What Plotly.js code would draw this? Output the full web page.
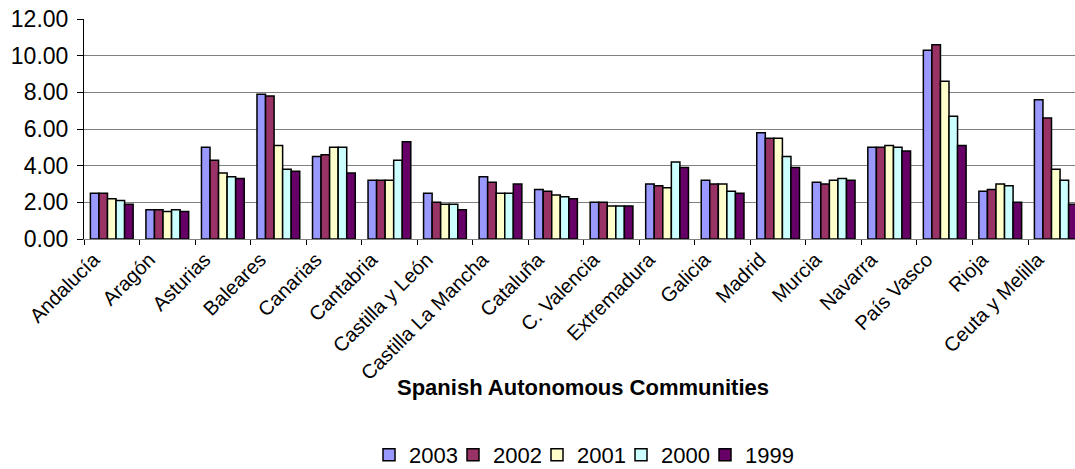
<!DOCTYPE html>
<html>
<head>
<meta charset="utf-8">
<script src="https://cdn.plot.ly/plotly-3.0.1.min.js"></script>
<style>html,body{margin:0;padding:0;background:#fff;}#chart{width:1075px;height:469px;}</style>
</head>
<body>
<div id="chart"></div>
<script>
const categories = ["Andalucía","Aragón","Asturias","Baleares","Canarias","Cantabria","Castilla y León","Castilla La Mancha","Cataluña","C. Valencia","Extremadura","Galicia","Madrid","Murcia","Navarra","País Vasco","Rioja","Ceuta y Melilla"];
const y2003 = [2.5,1.6,5.0,7.9,4.5,3.2,2.5,3.4,2.7,2.0,3.0,3.2,5.8,3.1,5.0,10.3,2.6,7.6];
const y2002 = [2.5,1.6,4.3,7.8,4.6,3.2,2.0,3.1,2.6,2.0,2.9,3.0,5.5,3.0,5.0,10.6,2.7,6.6];
const y2001 = [2.2,1.5,3.6,5.1,5.0,3.2,1.9,2.5,2.4,1.8,2.8,3.0,5.5,3.2,5.1,8.6,3.0,3.8];
const y2000 = [2.1,1.6,3.4,3.8,5.0,4.3,1.9,2.5,2.3,1.8,4.2,2.6,4.5,3.3,5.0,6.7,2.9,3.2];
const y1999 = [1.9,1.5,3.3,3.7,3.6,5.3,1.6,3.0,2.2,1.8,3.9,2.5,3.9,3.2,4.8,5.1,2.0,1.9];
const seriesNames = ["2003","2002","2001","2000","1999"];
const seriesValues = [y2003,y2002,y2001,y2000,y1999];
const seriesColors = ["#9999FF","#993366","#FFFFCC","#CCFFFF","#660066"];
const yTickVals = [0,2,4,6,8,10,12];
const yTickText = ["0.00","2.00","4.00","6.00","8.00","10.00","12.00"];
const xTitle = "Spanish Autonomous Communities";

const FONT = '"Liberation Sans", Arial, Helvetica, sans-serif';
const W = 1075, H = 469, ML = 84, MT = 19, MB = 230;
const plotW = W - ML, plotH = H - MT - MB;

// one legend per series so the entries can sit at the reference spacing
const legendKeys = seriesNames.map((n,i)=> i === 0 ? 'legend' : 'legend' + (i+1));
const legendLeftPx = [369, 453, 537, 621, 705];

const traces = seriesNames.map((n,i)=>({
  type:'bar', name:n, x:categories, y:seriesValues[i],
  legend: legendKeys[i],
  marker:{color:seriesColors[i], line:{color:'#000', width:1.5}},
  hoverinfo:'x+y+name'
}));

const layout = {
  width:W, height:H,
  margin:{l:ML, r:0, t:MT, b:MB, pad:0, autoexpand:false},
  paper_bgcolor:'#fff', plot_bgcolor:'#fff',
  font:{family:FONT, color:'#000', size:20},
  barmode:'group', bargap:0.23, bargroupgap:0,
  showlegend:true,
  xaxis:{
    type:'category', range:[-0.5, 17.346], tickangle:-45,
    tickfont:{family:FONT, size:20, color:'#000'},
    ticklabelshift:-18,
    showline:true, linecolor:'#808080', linewidth:1,
    ticks:'outside', tickson:'boundaries', ticklen:5, tickcolor:'#000',
    showgrid:false, automargin:false
  },
  yaxis:{
    range:[0,12], tickvals:yTickVals, ticktext:yTickText,
    tickfont:{family:FONT, size:23, color:'#000'},
    showgrid:true, gridcolor:'#808080', gridwidth:1,
    showline:true, linecolor:'#000', linewidth:1,
    ticks:'outside', ticklen:6, tickcolor:'#000', ticklabelstandoff:4,
    zeroline:false, automargin:false, fixedrange:true
  },
  annotations:[{
    text:'<b>' + xTitle + '</b>', xref:'paper', yref:'paper',
    x:(582.5-ML)/plotW, y:-(387-(MT+plotH))/plotH, xanchor:'center', yanchor:'middle',
    showarrow:false, font:{family:FONT, size:22, color:'#000'}
  }]
};
legendKeys.forEach((k,i)=>{
  layout[k] = {orientation:'h', x:(legendLeftPx[i]-ML)/plotW, xanchor:'left',
    y:-(455-(MT+plotH))/plotH, yanchor:'middle', bgcolor:'rgba(0,0,0,0)',
    font:{family:FONT, size:22, color:'#000'}, itemwidth:30};
});
Plotly.newPlot('chart', traces, layout, {displayModeBar:false, staticPlot:true});
</script>
</body>
</html>
